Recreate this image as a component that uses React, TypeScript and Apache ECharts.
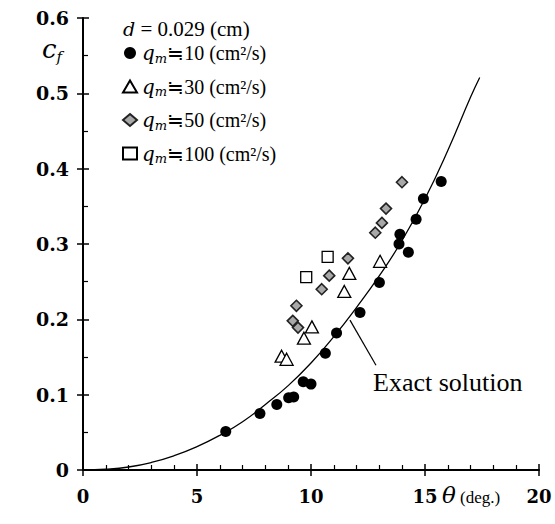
import React, { useEffect, useRef } from 'react';
import * as echarts from 'echarts';

// ---- data ----
const xTickLabels = ['0', '5', '10', '15', '20'];
const yTickLabels = ['0', '0.1', '0.2', '0.3', '0.4', '0.5', '0.6'];

// q_m ≒ 10 (filled circles)
const theta10 = [6.26, 7.76, 8.5, 9.02, 9.24, 9.66, 10.0, 10.63, 11.12, 12.15, 13.0, 13.86, 13.9, 14.27, 14.61, 14.93, 15.71];
const cf10 = [0.051, 0.075, 0.087, 0.096, 0.097, 0.117, 0.114, 0.155, 0.182, 0.209, 0.249, 0.3, 0.313, 0.289, 0.333, 0.36, 0.383];

// q_m ≒ 30 (open triangles)
const theta30 = [8.71, 8.93, 9.69, 10.04, 11.46, 11.68, 13.03];
const cf30 = [0.151, 0.147, 0.175, 0.19, 0.237, 0.261, 0.277];

// q_m ≒ 50 (grey diamonds)
const theta50 = [9.2, 9.43, 9.36, 10.47, 10.8, 11.62, 12.82, 13.11, 13.29, 13.99];
const cf50 = [0.198, 0.189, 0.218, 0.24, 0.258, 0.281, 0.315, 0.328, 0.347, 0.382];

// q_m ≒ 100 (open squares)
const theta100 = [9.79, 10.73];
const cf100 = [0.256, 0.283];

// Exact solution curve
const curveTheta = [0, 1, 2, 3, 4, 5, 6, 7, 8, 9, 10, 11, 12, 13, 14, 15, 16, 17, 17.4];
const curveCf = [0, 0.001, 0.004, 0.01, 0.019, 0.031, 0.046, 0.064, 0.087, 0.112, 0.142, 0.177, 0.216, 0.258, 0.305, 0.36, 0.424, 0.495, 0.521];

// leader line of the "Exact solution" note
const leaderTheta = [11.71, 12.85];
const leaderCf = [0.199, 0.139];

const seriesNames = ['q10', 'q30', 'q50', 'q100'];
const seriesLabels = ['10', '30', '50', '100'];

const SERIF = 'Liberation Serif';
const SERIF_BI = 'DejaVu Serif';

const zip = (a: number[], b: number[]) => a.map((v, i) => [v, b[i]]);

export default function App() {
  const ref = useRef<HTMLDivElement>(null);
  useEffect(() => {
    document.body.style.margin = '0';
    const chart = echarts.init(ref.current!, undefined, { renderer: 'svg' });
    const gridBox = { left: 83, right: 16, top: 18, bottom: 54 };
    const axisLine = { show: true, lineStyle: { color: '#000', width: 2 } };
    const labelFont = { fontFamily: SERIF_BI, fontWeight: 'bold', fontSize: 18, color: '#000' };
    const option: any = {
      animation: false,
      backgroundColor: '#fff',
      grid: [
        { ...gridBox },
        { ...gridBox },
      ],
      xAxis: [
        {
          type: 'value', gridIndex: 0, min: 0, max: 20, interval: 5,
          axisLine,
          axisTick: { show: true, inside: true, length: 6, lineStyle: { color: '#000', width: 1.5 } },
          minorTick: { show: true, splitNumber: 5, length: 5, lineStyle: { color: '#000', width: 1.2 } },
          splitLine: { show: false },
          axisLabel: {
            margin: 17, ...labelFont,
            formatter: (v: number) => {
              const i = Math.round(v / 5);
              const s = xTickLabels[i] ?? '';
              return i === xTickLabels.length - 1 ? `{hi|${s}}` : `{n|${s}}`;
            },
            rich: {
              n: { ...labelFont },
              hi: { ...labelFont, padding: [0, 0, 9, 0] },
            },
          },
        },
        {
          type: 'value', gridIndex: 1, min: 0, max: 20, interval: 5,
          axisLine: { show: false },
          axisTick: { show: true, inside: false, length: 6, lineStyle: { color: '#000', width: 1.5 } },
          splitLine: { show: false },
          axisLabel: { show: false },
        },
      ],
      yAxis: [
        {
          type: 'value', gridIndex: 0, min: 0, max: 0.6, interval: 0.1,
          axisLine,
          axisTick: { show: true, inside: true, length: 6, lineStyle: { color: '#000', width: 1.5 } },
          minorTick: { show: true, splitNumber: 2, length: 5, lineStyle: { color: '#000', width: 1.2 } },
          splitLine: { show: false },
          axisLabel: {
            margin: 14, color: '#000', fontFamily: SERIF_BI, fontWeight: 'bold', fontSize: 19,
            formatter: (v: number) => yTickLabels[Math.round(v * 10)] ?? '',
          },
        },
        {
          type: 'value', gridIndex: 1, min: 0, max: 0.6, interval: 0.1,
          axisLine: { show: false },
          axisTick: { show: true, inside: false, length: 6, lineStyle: { color: '#000', width: 1.5 } },
          splitLine: { show: false },
          axisLabel: { show: false },
        },
      ],
      legend: {
        data: seriesNames,
        orient: 'vertical',
        left: 117,
        top: 38,
        itemWidth: 14,
        itemHeight: 12,
        itemGap: 12,
        formatter: (name: string) => {
          const i = seriesNames.indexOf(name);
          return `{q|q}{m|m}{t|≒${seriesLabels[i]} (cm²/s)}`;
        },
        textStyle: {
          color: '#000',
          rich: {
            q: { fontFamily: SERIF_BI, fontStyle: 'italic', fontSize: 20, color: '#000' },
            m: { fontFamily: SERIF_BI, fontStyle: 'italic', fontSize: 13, color: '#000', padding: [10, 0, 0, 0] },
            t: { fontFamily: SERIF, fontSize: 20, color: '#000' },
          },
        },
      },
      series: [
        {
          name: 'Exact solution', type: 'line', xAxisIndex: 0, yAxisIndex: 0,
          data: zip(curveTheta, curveCf), showSymbol: false, symbol: 'none', smooth: true,
          lineStyle: { color: '#000', width: 1.3 }, z: 1,
          markLine: {
            silent: true, symbol: 'none', label: { show: false },
            lineStyle: { color: '#000', width: 1.2, type: 'solid' },
            data: [[{ coord: [leaderTheta[0], leaderCf[0]] }, { coord: [leaderTheta[1], leaderCf[1]] }]],
          },
        },
        {
          name: 'q10', type: 'scatter', data: zip(theta10, cf10), symbol: 'circle', symbolSize: 11,
          itemStyle: { color: '#000', opacity: 1 }, z: 3,
        },
        {
          name: 'q30', type: 'scatter', data: zip(theta30, cf30), symbol: 'triangle', symbolSize: [13, 12],
          itemStyle: { color: '#fff', borderColor: '#000', borderWidth: 1.3, opacity: 1 }, z: 3,
        },
        {
          name: 'q50', type: 'scatter', data: zip(theta50, cf50), symbol: 'diamond', symbolSize: 11,
          itemStyle: { color: '#a8a8a8', borderColor: '#222', borderWidth: 1.6, opacity: 1 }, z: 3,
        },
        {
          name: 'q100', type: 'scatter', data: zip(theta100, cf100), symbol: 'rect', symbolSize: 11,
          itemStyle: { color: '#fff', borderColor: '#000', borderWidth: 1.3, opacity: 1 }, z: 3,
        },
      ],
      graphic: [
        {
          type: 'text', left: 42, top: 36,
          style: {
            text: '{c|c}{f|f}',
            rich: {
              c: { fontFamily: SERIF_BI, fontStyle: 'italic', fontSize: 26, fill: '#000' },
              f: { fontFamily: SERIF_BI, fontStyle: 'italic', fontSize: 15, fill: '#000', padding: [16, 0, 0, 0] },
            },
          },
        },
        {
          type: 'text', left: 123, top: 18,
          style: {
            text: '{d|d}{t| = 0.029 (cm)}',
            rich: {
              d: { fontFamily: SERIF_BI, fontStyle: 'italic', fontSize: 19, fill: '#000' },
              t: { fontFamily: SERIF, fontSize: 21, fill: '#000' },
            },
          },
        },
        {
          type: 'text', left: 373, top: 369,
          style: { text: 'Exact solution', fontFamily: SERIF, fontSize: 26, fill: '#000' },
        },
        {
          type: 'text', left: 442, top: 483,
          style: {
            text: '{t|θ}{d| (deg.)}',
            rich: {
              t: { fontFamily: SERIF_BI, fontStyle: 'italic', fontSize: 23, fill: '#000' },
              d: { fontFamily: SERIF, fontSize: 17, fill: '#000', padding: [6, 0, 0, 0] },
            },
          },
        },
      ],
    };
    chart.setOption(option);
    return () => chart.dispose();
  }, []);
  return <div ref={ref} style={{ width: 555, height: 524 }} />;
}
